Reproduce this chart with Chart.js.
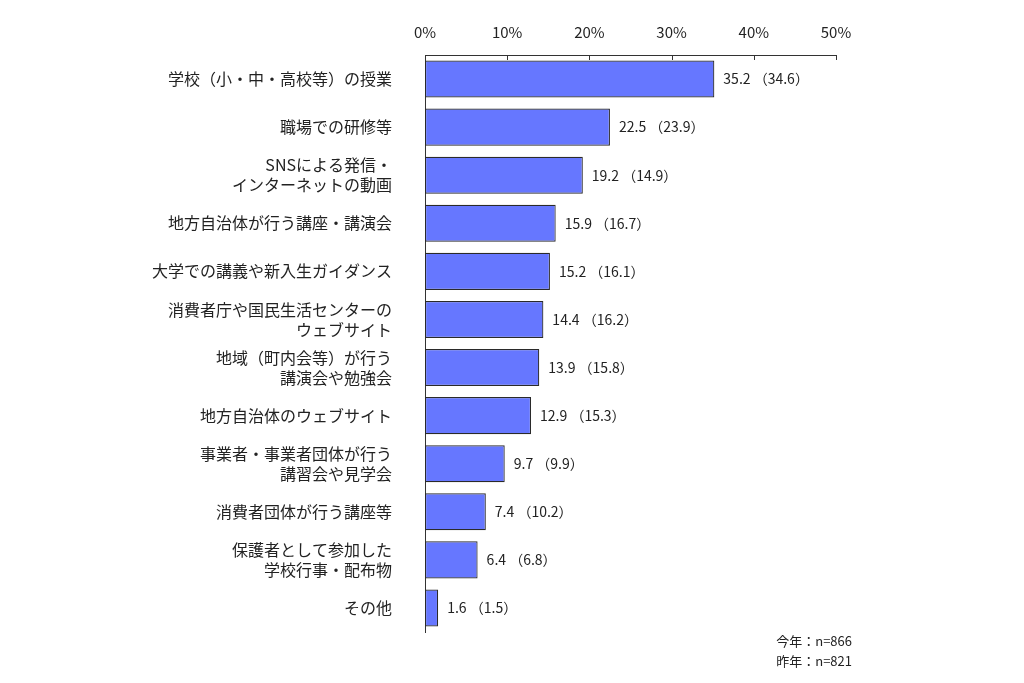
<!DOCTYPE html>
<html>
<head>
<meta charset="utf-8">
<script src="https://cdn.jsdelivr.net/npm/chart.js@4/dist/chart.umd.min.js"></script>
<style>
  html, body { margin: 0; padding: 0; background: #fff; }
  #wrap { width: 1024px; height: 683px; }
</style>
</head>
<body>
<div id="wrap"><canvas id="chart" width="1024" height="683"></canvas></div>
<script>
const categories = [
    "学校（小・中・高校等）の授業",
    "職場での研修等",
    ["SNSによる発信・", "インターネットの動画"],
    "地方自治体が行う講座・講演会",
    "大学での講義や新入生ガイダンス",
    ["消費者庁や国民生活センターの", "ウェブサイト"],
    ["地域（町内会等）が行う", "講演会や勉強会"],
    "地方自治体のウェブサイト",
    ["事業者・事業者団体が行う", "講習会や見学会"],
    "消費者団体が行う講座等",
    ["保護者として参加した", "学校行事・配布物"],
    "その他"
];
const thisYear = [35.2, 22.5, 19.2, 15.9, 15.2, 14.4, 13.9, 12.9, 9.7, 7.4, 6.4, 1.6];
const lastYear = [34.6, 23.9, 14.9, 16.7, 16.1, 16.2, 15.8, 15.3, 9.9, 10.2, 6.8, 1.5];
const xTicks = [0, 10, 20, 30, 40, 50];
const noteLines = ["今年：n=866", "昨年：n=821"];

const FONT = '"Noto Sans CJK JP", "Noto Sans", sans-serif';
const TEXT = '#222';

// value labels at the end of each bar
const valueLabels = {
    id: 'valueLabels',
    afterDatasetsDraw(chart) {
        const ctx = chart.ctx;
        const meta = chart.getDatasetMeta(0);
        ctx.save();
        ctx.font = '14px ' + FONT;
        ctx.fillStyle = TEXT;
        ctx.textBaseline = 'middle';
        ctx.textAlign = 'left';
        meta.data.forEach((bar, i) => {
            ctx.fillText(thisYear[i].toFixed(1) + ' （' + lastYear[i].toFixed(1) + '）', bar.x + 9, bar.y);
        });
        ctx.restore();
    }
};

// short tick marks pointing down from the top axis, plus sample note
const axisExtras = {
    id: 'axisExtras',
    afterDraw(chart) {
        const ctx = chart.ctx;
        const xs = chart.scales.x;
        const top = chart.chartArea.top;
        ctx.save();
        ctx.strokeStyle = '#333';
        ctx.lineWidth = 1;
        xTicks.forEach(t => {
            const px = Math.round(xs.getPixelForValue(t)) + 0.5;
            ctx.beginPath();
            ctx.moveTo(px, top);
            ctx.lineTo(px, top + 5);
            ctx.stroke();
        });
        ctx.font = '13px ' + FONT;
        ctx.fillStyle = TEXT;
        ctx.textAlign = 'right';
        ctx.textBaseline = 'middle';
        noteLines.forEach((s, i) => ctx.fillText(s, 852, 641 + i * 20));
        ctx.restore();
    }
};

new Chart(document.getElementById('chart'), {
    type: 'bar',
    data: {
        labels: categories,
        datasets: [{
            data: thisYear,
            backgroundColor: '#6677ff',
            borderColor: '#2a2a2a',
            borderWidth: 1.2,
            borderSkipped: false,
            categoryPercentage: 1.0,
            barPercentage: 0.77
        }]
    },
    options: {
        indexAxis: 'y',
        responsive: false,
        animation: false,
        layout: { padding: { left: 0, right: 188, top: 0, bottom: 51 } },
        plugins: { legend: { display: false }, tooltip: { enabled: false } },
        scales: {
            x: {
                position: 'top',
                min: 0,
                max: 50,
                afterBuildTicks: s => { s.ticks = xTicks.map(v => ({ value: v })); },
                afterFit: s => { s.height = 55; },
                grid: { display: false, drawTicks: false },
                border: { display: true, color: '#333', width: 1 },
                ticks: {
                    padding: 14,
                    color: TEXT,
                    font: { family: FONT, size: 15 },
                    callback: v => v + '%'
                }
            },
            y: {
                afterFit: s => { s.width = 425; },
                grid: { display: false, drawTicks: false },
                border: { display: true, color: '#333', width: 1 },
                ticks: {
                    padding: 33,
                    color: TEXT,
                    font: { family: FONT, size: 16, lineHeight: 1.25 }
                }
            }
        }
    },
    plugins: [valueLabels, axisExtras]
});
</script>
</body>
</html>
